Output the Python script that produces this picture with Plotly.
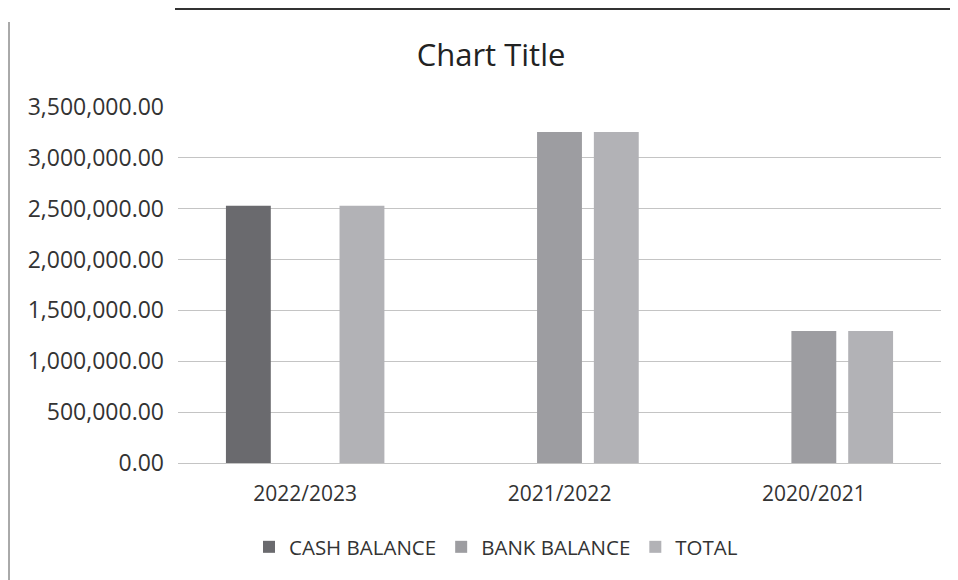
import plotly.graph_objects as go

categories = ["2022/2023", "2021/2022", "2020/2021"]
cash_balance = [2530000, 0, 0]
bank_balance = [0, 3255000, 1298000]
total = [2530000, 3255000, 1298000]

series = [
    ("CASH BALANCE", cash_balance, "#6a6a6e"),
    ("BANK BALANCE", bank_balance, "#9d9da1"),
    ("TOTAL", total, "#b2b2b6"),
]

fig = go.Figure()
for name, vals, color in series:
    fig.add_trace(go.Bar(name=name, x=categories, y=vals, marker=dict(color=color, line=dict(width=0))))

font_family = "Open Sans, Liberation Sans, sans-serif"

W, H = 950, 572
L, R, T, B = 170, 17, 99, 117
pw, ph = W - L - R, H - T - B

fig.update_layout(
    width=W, height=H,
    paper_bgcolor="white", plot_bgcolor="white",
    barmode="group", bargap=0.33, bargroupgap=0.21,
    margin=dict(l=L, r=R, t=T, b=B),
    title=dict(text="Chart Title", x=483 / W, xanchor="center", y=1 - 47 / H, yanchor="middle",
               font=dict(family=font_family, size=31, color="#222222")),
    font=dict(family=font_family, color="#333333"),
    legend=dict(orientation="h", x=(488 - L) / pw, xanchor="center", y=(455 - 539) / ph, yanchor="middle",
                font=dict(size=20.5, color="#333333"), itemsizing="constant", traceorder="normal",
                itemwidth=30),
    showlegend=True,
)
fig.update_yaxes(range=[0, 3500000], dtick=500000, tickformat=",.2f",
                 showgrid=True, gridcolor="#c4c4c4", gridwidth=1,
                 zeroline=True, zerolinecolor="#c4c4c4", zerolinewidth=1,
                 tickfont=dict(size=23, color="#333333"), ticks="", ticklabelstandoff=13)
fig.update_xaxes(tickfont=dict(size=21, color="#333333"), showline=False, ticks="",
                 ticklabelstandoff=16)

# frame/border lines of the scanned page
fig.add_shape(type="line", xref="paper", yref="paper", x0=-(L - 1) / pw, x1=-(L - 1) / pw,
              y0=-B / ph, y1=1 + (T - 14) / ph, line=dict(color="#555555", width=1))
fig.add_shape(type="line", xref="paper", yref="paper", x0=-3 / pw, x1=1 + R / pw,
              y0=1 + (T - 1) / ph, y1=1 + (T - 1) / ph, line=dict(color="#333333", width=2))

fig.write_html("out.html")
